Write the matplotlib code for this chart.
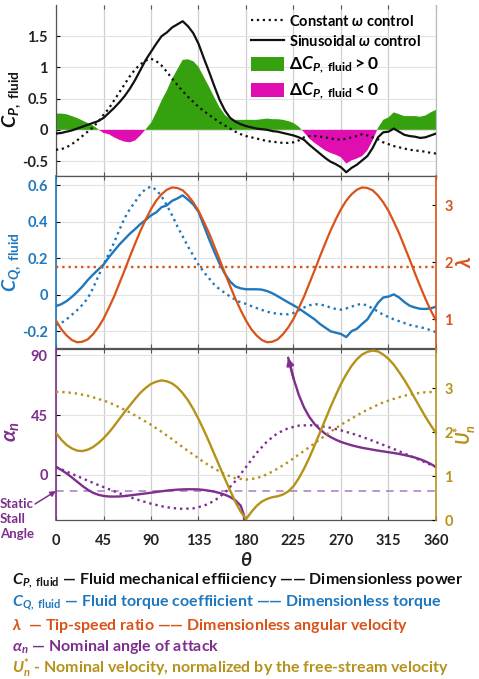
import numpy as np
import matplotlib
matplotlib.use("Agg")
import matplotlib.pyplot as plt
from matplotlib.patches import Patch
from matplotlib.lines import Line2D

# ---------------- data ----------------
theta = np.arange(0, 365, 5)          # 0..360 deg, 5 deg steps
theta10 = np.arange(0, 370, 10)       # 0..360 deg, 10 deg steps

cp_sin = [-0.06, -0.05, -0.03, -0.01, 0.02, 0.05, 0.08, 0.11, 0.14, 0.19,
          0.27, 0.35, 0.44, 0.54, 0.66, 0.80, 0.96, 1.12, 1.25, 1.38,
          1.50, 1.56, 1.64, 1.69, 1.74, 1.66, 1.55, 1.38, 1.15, 0.93,
          0.70, 0.48, 0.31, 0.19, 0.13, 0.09, 0.06, 0.04, 0.02, 0.01,
          0.00, -0.02, -0.03, -0.05, -0.07, -0.09, -0.12, -0.16, -0.24, -0.31,
          -0.38, -0.45, -0.51, -0.55, -0.60, -0.68, -0.61, -0.56, -0.49, -0.42,
          -0.29, -0.12, -0.04, -0.03, 0.02, -0.03, -0.08, -0.10, -0.11, -0.13,
          -0.12, -0.09, -0.06]
cp_const = [-0.32, -0.31, -0.28, -0.23, -0.17, -0.10, -0.03, 0.04, 0.13, 0.24,
            0.34, 0.47, 0.60, 0.73, 0.86, 0.97, 1.05, 1.11, 1.14, 1.10,
            1.03, 0.93, 0.82, 0.72, 0.62, 0.53, 0.45, 0.37, 0.30, 0.24,
            0.18, 0.12, 0.07, 0.02, -0.03, -0.07, -0.10, -0.12, -0.14, -0.16,
            -0.18, -0.19, -0.20, -0.21, -0.21, -0.20, -0.17, -0.12, -0.10, -0.10,
            -0.11, -0.12, -0.14, -0.15, -0.16, -0.14, -0.12, -0.10, -0.07, -0.09,
            -0.12, -0.15, -0.20, -0.23, -0.26, -0.28, -0.30, -0.32, -0.33, -0.34,
            -0.35, -0.37, -0.38]

cq_sin = [-0.062, -0.052, -0.035, -0.012, 0.015, 0.045, 0.080, 0.110, 0.138, 0.165,
          0.205, 0.240, 0.275, 0.305, 0.335, 0.360, 0.388, 0.410, 0.435, 0.452,
          0.480, 0.490, 0.515, 0.528, 0.545, 0.522, 0.495, 0.455, 0.380, 0.305,
          0.235, 0.170, 0.115, 0.072, 0.045, 0.035, 0.030, 0.030, 0.030, 0.028,
          0.020, 0.008, -0.008, -0.025, -0.042, -0.058, -0.075, -0.095, -0.115, -0.135,
          -0.160, -0.180, -0.200, -0.208, -0.215, -0.232, -0.200, -0.187, -0.160, -0.135,
          -0.090, -0.045, -0.015, -0.010, 0.002, -0.015, -0.040, -0.060, -0.070, -0.077,
          -0.078, -0.075, -0.065]
cq_const = [-0.165, -0.155, -0.135, -0.110, -0.085, -0.055, -0.020, 0.035, 0.100, 0.165,
            0.225, 0.285, 0.355, 0.420, 0.470, 0.510, 0.552, 0.580, 0.593, 0.575,
            0.540, 0.490, 0.435, 0.375, 0.320, 0.265, 0.215, 0.165, 0.125, 0.090,
            0.055, 0.030, 0.010, -0.010, -0.028, -0.042, -0.050, -0.062, -0.073, -0.083,
            -0.093, -0.100, -0.104, -0.107, -0.107, -0.100, -0.085, -0.070, -0.058, -0.052,
            -0.053, -0.060, -0.070, -0.078, -0.082, -0.075, -0.065, -0.055, -0.050, -0.060,
            -0.075, -0.092, -0.110, -0.122, -0.135, -0.145, -0.155, -0.165, -0.172, -0.178,
            -0.185, -0.195, -0.205]

lam_sin = [0.98, 0.83, 0.72, 0.64, 0.60, 0.61, 0.65, 0.74, 0.86, 1.01,
           1.20, 1.40, 1.63, 1.86, 2.10, 2.33, 2.55, 2.75, 2.93, 3.08,
           3.19, 3.27, 3.31, 3.30, 3.26, 3.17, 3.05, 2.90, 2.71, 2.51,
           2.28, 2.05, 1.81, 1.58, 1.36, 1.16, 0.98, 0.83, 0.72, 0.64,
           0.60, 0.61, 0.65, 0.74, 0.86, 1.01, 1.20, 1.40, 1.63, 1.86,
           2.10, 2.33, 2.55, 2.75, 2.93, 3.08, 3.19, 3.27, 3.31, 3.30,
           3.26, 3.17, 3.05, 2.90, 2.71, 2.51, 2.28, 2.05, 1.81, 1.58,
           1.36, 1.16, 0.98]
lam_const = 1.92

# nominal angle of attack, sinusoidal control (two visible branches)
theta_alpha_a = [0, 5, 10, 15, 20, 25, 30, 35, 40, 45, 50, 55, 60, 65, 70, 75, 80, 85,
                 90, 95, 100, 105, 110, 115, 120, 125, 130, 135, 140, 145, 150, 155,
                 160, 165, 170, 175, 178, 179, 180]
alpha_sin_a = [6.0, 3.8, 1.2, -1.8, -5.0, -8.2, -11.0, -13.3, -14.8, -15.7, -16.1, -16.2,
               -16.1, -15.8, -15.3, -14.8, -14.3, -13.8, -13.3, -12.7, -12.2, -11.7,
               -11.3, -11.0, -10.8, -10.7, -10.7, -10.8, -11.2, -11.8, -12.5, -13.5,
               -14.8, -16.5, -19.0, -23.0, -30.0, -45.0, -174.0]
theta_alpha_b = [220, 225, 230, 235, 240, 245, 250, 255, 260, 265, 270, 275, 280, 285,
                 290, 295, 300, 305, 310, 315, 320, 325, 330, 335, 340, 345, 350, 355, 360]
alpha_sin_b = [87.8, 72.5, 60.1, 50.6, 43.5, 38.2, 34.2, 31.0, 28.5, 26.5, 24.8, 23.5,
               22.3, 21.3, 20.4, 19.7, 19.0, 18.3, 17.7, 17.1, 16.5, 15.8, 15.0, 14.1,
               13.1, 11.8, 10.2, 8.3, 6.0]
alpha_const = [6.0, 2.6, -0.8, -4.2, -7.5, -10.6, -13.7, -16.6, -19.2, -21.5, -23.4,
               -24.8, -25.4, -25.0, -23.1, -19.4, -13.2, -4.5, 6.0, 16.5, 25.2, 31.4,
               35.1, 37.0, 37.4, 36.8, 35.4, 33.5, 31.2, 28.6, 25.7, 22.6, 19.5, 16.2,
               12.8, 9.4, 6.0]
stall_angle = -12.0

u_sin = [1.98, 1.83, 1.71, 1.63, 1.58, 1.57, 1.60, 1.66, 1.75, 1.86,
         1.99, 2.14, 2.30, 2.46, 2.61, 2.76, 2.90, 3.01, 3.10, 3.15,
         3.18, 3.16, 3.11, 3.02, 2.89, 2.73, 2.53, 2.30, 2.05, 1.78,
         1.50, 1.22, 0.94, 0.67, 0.41, 0.19, 0.02, 0.18, 0.32, 0.42,
         0.48, 0.52, 0.54, 0.58, 0.65, 0.77, 0.95, 1.17, 1.42, 1.70,
         1.99, 2.28, 2.57, 2.84, 3.10, 3.32, 3.51, 3.66, 3.77, 3.83,
         3.86, 3.84, 3.77, 3.67, 3.54, 3.37, 3.19, 2.99, 2.77, 2.56,
         2.35, 2.16, 1.98]
u_const = [2.92, 2.91, 2.88, 2.83, 2.76, 2.68, 2.57, 2.45, 2.31, 2.17, 2.01, 1.84,
           1.66, 1.49, 1.32, 1.17, 1.04, 0.95, 0.92, 0.95, 1.04, 1.17, 1.32, 1.49,
           1.66, 1.84, 2.01, 2.17, 2.31, 2.45, 2.57, 2.68, 2.76, 2.83, 2.88, 2.91, 2.92]

xticks = [0, 45, 90, 135, 180, 225, 270, 315, 360]
cp_ticks = [-0.5, 0, 0.5, 1, 1.5]
cp_ticklabels = ["-0.5", "0", "0.5", "1", "1.5"]
cq_ticks = [-0.2, 0, 0.2, 0.4, 0.6]
cq_ticklabels = ["-0.2", "0", "0.2", "0.4", "0.6"]
lam_ticks = [1, 2, 3]
alpha_ticks = [0, 45, 90]
u_ticks = [0, 1, 2, 3]

# ---------------- style ----------------
plt.rcParams["font.family"] = ["Lato", "DejaVu Sans"]
plt.rcParams["font.weight"] = "bold"
plt.rcParams["mathtext.fontset"] = "custom"
plt.rcParams["mathtext.rm"] = "Lato:bold"
plt.rcParams["mathtext.bf"] = "Lato:bold"
plt.rcParams["mathtext.it"] = "Lato:bold:italic"
plt.rcParams["mathtext.bfit"] = "Lato:bold:italic"
plt.rcParams["mathtext.fallback"] = "stixsans"

BLACK = "#111111"
BLUE = "#1f78bd"
ORANGE = "#d95319"
PURPLE = "#7e2f8e"
OLIVE = "#b5921a"
GREEN = "#36a10f"
MAGENTA = "#e00db0"
STALL = "#a878c4"
GRID = "#cfcfcf"
SPINE = "#555555"
FS = 10.5

fig = plt.figure(figsize=(4.79, 6.79), dpi=100)
L, W = 56 / 479, 380 / 479
ax1 = fig.add_axes([L, 1 - 176 / 679, W, 171 / 679])
ax2 = fig.add_axes([L, 1 - 348 / 679, W, 172 / 679])
ax3 = fig.add_axes([L, 1 - 520 / 679, W, 171 / 679])
ax2r = ax2.twinx()
ax3r = ax3.twinx()


def base_style(ax):
    ax.set_xlim(0, 360)
    ax.set_xticks(xticks)
    ax.grid(True, axis="x", color=GRID, lw=0.9)
    ax.grid(True, axis="y", color="#e2e2e2", lw=0.8)
    ax.set_axisbelow(True)
    ax.tick_params(axis="x", direction="in", top=True, bottom=True, length=3,
                   color=SPINE, labelbottom=False)
    ax.tick_params(axis="y", direction="in", length=3, pad=6, labelsize=FS)
    for s in ax.spines.values():
        s.set_color(SPINE)
        s.set_linewidth(0.9)


for a in (ax1, ax2, ax3):
    base_style(a)
for a in (ax2r, ax3r):
    a.set_xlim(0, 360)
    a.tick_params(axis="y", direction="in", length=3, pad=6, labelsize=FS)
    for k in ("left", "top", "bottom"):
        a.spines[k].set_visible(False)

# ---------------- top panel: C_P ----------------
cp_sin_a = np.array(cp_sin)
cp_const_a = np.array(cp_const)
delta = cp_sin_a - cp_const_a
ax1.fill_between(theta, 0, delta, where=delta >= 0, interpolate=True,
                 color=GREEN, lw=0, zorder=2)
ax1.fill_between(theta, 0, delta, where=delta <= 0, interpolate=True,
                 color=MAGENTA, lw=0, zorder=2)
ax1.plot(theta, cp_const_a, color=BLACK, ls=":", lw=1.6, zorder=3)
ax1.plot(theta, cp_sin_a, color=BLACK, ls="-", lw=1.6, zorder=3)
ax1.set_ylim(-0.74, 2.0)
ax1.set_yticks(cp_ticks)
ax1.set_yticklabels(cp_ticklabels, color="#222222")
ax1.spines["top"].set_visible(False)
ax1.spines["right"].set_color("#bbbbbb")
ax1.set_ylabel(r"$\mathbfit{C}_{\mathbfit{P},\ \mathbf{fluid}}$", fontsize=14,
               color=BLACK)
ax1.yaxis.set_label_coords(-0.088, 0.45)

handles = [
    Line2D([], [], color=BLACK, ls=":", lw=1.6),
    Line2D([], [], color=BLACK, ls="-", lw=1.6),
    Patch(facecolor=GREEN, edgecolor="none"),
    Patch(facecolor=MAGENTA, edgecolor="none"),
]
labels = [
    r"Constant $\mathbfit{\omega}$ control",
    r"Sinusoidal $\mathbfit{\omega}$ control",
    r"$\mathbf{\Delta}\mathbfit{C}_{\mathbfit{P},\ \mathbf{fluid}} > 0$",
    r"$\mathbf{\Delta}\mathbfit{C}_{\mathbfit{P},\ \mathbf{fluid}} < 0$",
]
leg = ax1.legend(handles, labels, loc="upper left", bbox_to_anchor=(0.49, 1.0),
                 frameon=False, fontsize=10.5, handlelength=2.3, handletextpad=0.3,
                 handleheight=1.1, labelspacing=0.35, borderaxespad=0.2)
for t in leg.get_texts()[2:]:
    t.set_fontsize(12.5)

# ---------------- middle panel: C_Q and lambda ----------------
ax2.plot(theta, cq_const, color=BLUE, ls=":", lw=1.7, zorder=3)
ax2.plot(theta, cq_sin, color=BLUE, ls="-", lw=1.7, zorder=3)
ax2.set_ylim(-0.292, 0.651)
ax2.set_yticks(cq_ticks)
ax2.set_yticklabels(cq_ticklabels, color=BLUE)
ax2.spines["left"].set_color(BLUE)
ax2.spines["left"].set_linewidth(1.2)
ax2.spines["right"].set_visible(False)
ax2.set_ylabel(r"$\mathbfit{C}_{\mathbfit{Q},\ \mathbf{fluid}}$", fontsize=14,
               color=BLUE)
ax2.yaxis.set_label_coords(-0.088, 0.5)

ax2r.plot(theta, lam_sin, color=ORANGE, ls="-", lw=1.6)
ax2r.axhline(lam_const, color=ORANGE, ls=":", lw=1.7)
ax2r.set_ylim(0.50, 3.51)
ax2r.set_yticks(lam_ticks)
ax2r.set_yticklabels([str(v) for v in lam_ticks], color=ORANGE)
ax2r.spines["right"].set_color(ORANGE)
ax2r.spines["right"].set_linewidth(1.2)
ax2r.set_ylabel(r"$\mathbfit{\lambda}$", fontsize=15, color=ORANGE, rotation=90)
ax2r.yaxis.set_label_coords(1.05, 0.5)

# ---------------- bottom panel: alpha and U ----------------
ax3.axhline(stall_angle, color=STALL, ls=(0, (5, 4)), lw=1.1, zorder=2)
ax3.plot(theta10, alpha_const, color=PURPLE, ls=":", lw=1.7, zorder=3)
ax3.plot(theta_alpha_a, alpha_sin_a, color=PURPLE, ls="-", lw=1.7, zorder=3)
ax3.plot(theta_alpha_b, alpha_sin_b, color=PURPLE, ls="-", lw=1.7, zorder=3)
ax3.annotate("", xy=(theta_alpha_b[0], alpha_sin_b[0]),
             xytext=(theta_alpha_b[1], alpha_sin_b[1]),
             arrowprops=dict(arrowstyle="-|>", color=PURPLE, lw=1.7,
                             mutation_scale=10, shrinkA=0, shrinkB=0))
ax3.set_ylim(-33.75, 94.5)
ax3.set_yticks(alpha_ticks)
ax3.set_yticklabels([str(v) for v in alpha_ticks], color=PURPLE)
ax3.spines["left"].set_color(PURPLE)
ax3.spines["left"].set_linewidth(1.2)
ax3.spines["right"].set_visible(False)
ax3.tick_params(axis="x", labelbottom=True, labelsize=FS, pad=10, colors=SPINE,
                labelcolor="#222222")
ax3.set_xticklabels([str(v) for v in xticks])
ax3.set_xlabel(r"$\mathbfit{\theta}$", fontsize=14, color="#222222", labelpad=2)
ax3.set_ylabel(r"$\mathbfit{\alpha}_{\mathbfit{n}}$", fontsize=15, color=PURPLE)
ax3.yaxis.set_label_coords(-0.09, 0.52)

ax3r.plot(theta10, u_const, color=OLIVE, ls=":", lw=1.7)
ax3r.plot(theta, u_sin, color=OLIVE, ls="-", lw=1.7)
ax3r.set_ylim(0, 3.895)
ax3r.set_yticks(u_ticks)
ax3r.set_yticklabels([str(v) for v in u_ticks], color=OLIVE)
ax3r.spines["right"].set_color(OLIVE)
ax3r.spines["right"].set_linewidth(1.2)
# right-hand label for U_n^* placed explicitly so it stays inside the figure
fig.text(465 / 479, 1 - 435 / 679, r"$\mathbfit{U}_{\mathbfit{n}}^{\mathbf{*}}$",
         fontsize=13, color=OLIVE, rotation=90, ha="center", va="center")

# static stall annotation
fig.text(0.0, 1 - 498 / 679, "Static\nStall\nAngle", color=PURPLE, fontsize=9.5,
         va="top", ha="left", linespacing=1.3)
ax3.annotate("", xy=(0, stall_angle), xycoords="data",
             xytext=(35 / 479, 1 - 504 / 679), textcoords="figure fraction",
             arrowprops=dict(arrowstyle="-|>", color=PURPLE, lw=1.1,
                             mutation_scale=8, shrinkA=0, shrinkB=0),
             annotation_clip=False)

# ---------------- explanatory text lines ----------------
lines = [
    (r"$\mathbfit{C}_{\mathbfit{P},\ \mathbf{fluid}}$ — Fluid mechanical effiiciency —— Dimensionless power", BLACK, 581),
    (r"$\mathbfit{C}_{\mathbfit{Q},\ \mathbf{fluid}}$ — Fluid torque coeffiicient —— Dimensionless torque", BLUE, 603),
    (r"$\mathbfit{\lambda}$  — Tip-speed ratio —— Dimensionless angular velocity", ORANGE, 626),
    (r"$\mathbfit{\alpha}_{\mathbfit{n}}$ — Nominal angle of attack", PURPLE, 647),
    (r"$\mathbfit{U}_{\mathbfit{n}}^{\mathbf{*}}$ - Nominal velocity, normalized by the free-stream velocity", OLIVE, 668),
]
for txt, col, ypx in lines:
    fig.text(12 / 479, 1 - ypx / 679, txt, color=col, fontsize=11.5,
             va="center", ha="left")

fig.savefig("out.png", dpi=100)
